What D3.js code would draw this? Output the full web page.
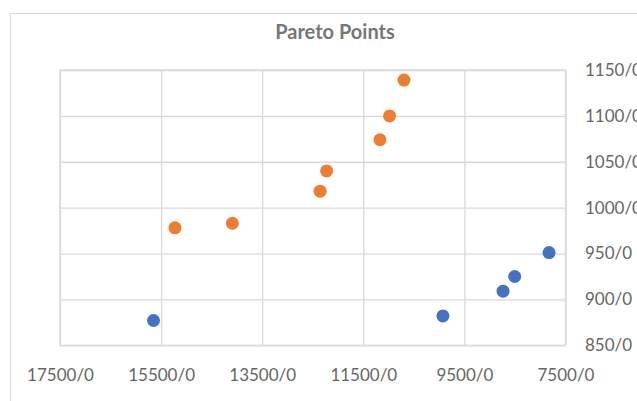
<!DOCTYPE html>
<html>
<head>
<meta charset="utf-8">
<script src="https://cdn.jsdelivr.net/npm/d3@7"></script>
<style>
  html, body { margin: 0; padding: 0; background: #fff; overflow: hidden; }
  svg { display: block; }
</style>
</head>
<body>
<svg id="chart" width="637" height="401"></svg>
<script>
// Pareto front samples: objective 1 (x, shown reversed) vs objective 2 (y)
const seriesAX = [15650, 9925, 8735, 8505, 7825];
const seriesAY = [877, 882, 909, 925, 951];
const seriesBX = [15225, 14090, 12355, 12225, 11170, 10980, 10695];
const seriesBY = [978, 983, 1018, 1040, 1074, 1100, 1139];

const xTicks = [17500, 15500, 13500, 11500, 9500, 7500];
const yTicks = [850, 900, 950, 1000, 1050, 1100, 1150];
const tickLabel = v => v + "/0";

const colorA = "#4472C4";
const colorB = "#ED7D31";
const gridColor = "#D9D9D9";
const labelColor = "#666666";
const font = "Lato, 'Open Sans', sans-serif";

const svg = d3.select("#chart");
const W = 637, H = 401;

// outer chart frame
svg.append("rect")
  .attr("x", 10.5).attr("y", 13.5)
  .attr("width", W + 20).attr("height", H + 20)
  .attr("fill", "#fff")
  .attr("stroke", gridColor).attr("stroke-width", 1);

const plot = { left: 60, right: 565.5, top: 70, bottom: 345.3 };

const x = d3.scaleLinear().domain([17500, 7500]).range([plot.left, plot.right]);
const y = d3.scaleLinear().domain([850, 1150]).range([plot.bottom, plot.top]);

// title
svg.append("text")
  .attr("x", 335).attr("y", 39)
  .attr("text-anchor", "middle")
  .attr("font-family", font).attr("font-weight", "bold")
  .attr("font-size", 20).attr("fill", "#767676")
  .text("Pareto Points");

// gridlines
const gx = svg.append("g")
  .attr("transform", `translate(0,${plot.bottom})`)
  .call(d3.axisBottom(x).tickValues(xTicks).tickSize(-(plot.bottom - plot.top)).tickFormat(""));
const gy = svg.append("g")
  .attr("transform", `translate(${plot.right},0)`)
  .call(d3.axisRight(y).tickValues(yTicks).tickSize(-(plot.right - plot.left)).tickFormat(""));
[gx, gy].forEach(g => {
  g.select(".domain").remove();
  g.selectAll(".tick line").attr("stroke", gridColor).attr("stroke-width", 1.3);
});

// plot-area border
svg.append("rect")
  .attr("x", plot.left).attr("y", plot.top)
  .attr("width", plot.right - plot.left).attr("height", plot.bottom - plot.top)
  .attr("fill", "none").attr("stroke", gridColor).attr("stroke-width", 1.3);

// tick labels
const ax = svg.append("g")
  .attr("transform", `translate(0,${plot.bottom})`)
  .call(d3.axisBottom(x).tickValues(xTicks).tickSize(0).tickPadding(0).tickFormat(tickLabel));
ax.selectAll("text").attr("dy", null).attr("y", 36);
const ay = svg.append("g")
  .attr("transform", `translate(${plot.right},0)`)
  .call(d3.axisRight(y).tickValues(yTicks).tickSize(0).tickPadding(19.5).tickFormat(tickLabel));
[ax, ay].forEach(g => {
  g.select(".domain").remove();
  g.attr("font-family", font).attr("font-size", 17);
  g.selectAll("text").attr("fill", labelColor);
});

// points
const ptsA = seriesAX.map((v, i) => [v, seriesAY[i]]);
const ptsB = seriesBX.map((v, i) => [v, seriesBY[i]]);
svg.append("g").selectAll("circle").data(ptsB).join("circle")
  .attr("cx", d => x(d[0])).attr("cy", d => y(d[1]))
  .attr("r", 6.5).attr("fill", colorB);
svg.append("g").selectAll("circle").data(ptsA).join("circle")
  .attr("cx", d => x(d[0])).attr("cy", d => y(d[1]))
  .attr("r", 6.5).attr("fill", colorA);
</script>
</body>
</html>
